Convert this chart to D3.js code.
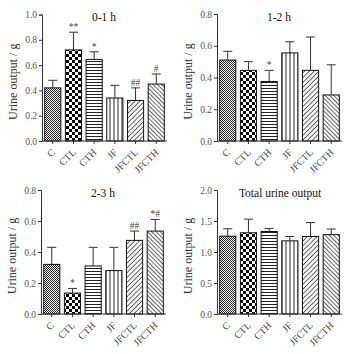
<!DOCTYPE html>
<html>
<head>
<meta charset="utf-8">
<style>
  body { margin: 0; background: #fff; }
  svg { display: block; }
  text { font-family: 'Liberation Serif', 'DejaVu Serif', serif; }
</style>
</head>
<body>
<div id="chart"></div>
<script src="https://d3js.org/d3.v7.min.js"></script>
<script>
  // Groups (x categories)
  const groups = ['C', 'CTL', 'CTH', 'JF', 'JFCTL', 'JFCTH'];

  // 0-1 h
  const mean01 = [0.42, 0.72, 0.645, 0.34, 0.32, 0.45];
  const err01 = [0.06, 0.14, 0.06, 0.10, 0.10, 0.08];
  const sig01 = ['', '**', '*', '', '##', '#'];
  const ticks01 = [0, 0.2, 0.4, 0.6, 0.8, 1.0];

  // 1-2 h
  const mean12 = [0.51, 0.445, 0.375, 0.555, 0.445, 0.29];
  const err12 = [0.055, 0.055, 0.07, 0.07, 0.21, 0.19];
  const sig12 = ['', '', '*', '', '', ''];
  const ticks12 = [0, 0.2, 0.4, 0.6, 0.8];

  // 2-3 h
  const mean23 = [0.32, 0.135, 0.31, 0.28, 0.475, 0.535];
  const err23 = [0.11, 0.03, 0.12, 0.15, 0.06, 0.075];
  const sig23 = ['', '*', '', '', '##', '*#'];
  const ticks23 = [0, 0.2, 0.4, 0.6, 0.8];

  // Total
  const meanTot = [1.255, 1.31, 1.33, 1.18, 1.25, 1.28];
  const errTot = [0.12, 0.22, 0.05, 0.07, 0.225, 0.09];
  const sigTot = ['', '', '', '', '', ''];
  const ticksTot = [0, 0.5, 1.0, 1.5, 2.0];

  const width = 354;
  const height = 354;

  const svg = d3.select('#chart')
    .append('svg')
    .attr('width', width)
    .attr('height', height);

  // Fill patterns, one per group
  const defs = svg.append('defs');

  const p0 = defs.append('pattern').attr('id', 'pat0')
    .attr('patternUnits', 'userSpaceOnUse').attr('width', 2).attr('height', 2);
  p0.append('rect').attr('width', 2).attr('height', 2).attr('fill', '#fff');
  p0.append('rect').attr('width', 1).attr('height', 1).attr('fill', '#222');
  p0.append('rect').attr('x', 1).attr('y', 1).attr('width', 1).attr('height', 1).attr('fill', '#222');

  const p1 = defs.append('pattern').attr('id', 'pat1')
    .attr('patternUnits', 'userSpaceOnUse').attr('width', 6).attr('height', 6);
  p1.append('rect').attr('width', 6).attr('height', 6).attr('fill', '#fff');
  p1.append('rect').attr('width', 3).attr('height', 3).attr('fill', '#000');
  p1.append('rect').attr('x', 3).attr('y', 3).attr('width', 3).attr('height', 3).attr('fill', '#000');

  const p2 = defs.append('pattern').attr('id', 'pat2')
    .attr('patternUnits', 'userSpaceOnUse').attr('width', 3).attr('height', 3);
  p2.append('rect').attr('width', 3).attr('height', 3).attr('fill', '#fff');
  p2.append('line').attr('x1', 0).attr('x2', 3).attr('y1', 1.5).attr('y2', 1.5)
    .attr('stroke', '#222').attr('stroke-width', 1);

  const p3 = defs.append('pattern').attr('id', 'pat3')
    .attr('patternUnits', 'userSpaceOnUse').attr('width', 4).attr('height', 4);
  p3.append('rect').attr('width', 4).attr('height', 4).attr('fill', '#fff');
  p3.append('line').attr('x1', 2).attr('x2', 2).attr('y1', 0).attr('y2', 4)
    .attr('stroke', '#222').attr('stroke-width', 1);

  const p4 = defs.append('pattern').attr('id', 'pat4')
    .attr('patternUnits', 'userSpaceOnUse').attr('width', 3.4).attr('height', 3.4)
    .attr('patternTransform', 'rotate(45)');
  p4.append('rect').attr('width', 3.4).attr('height', 3.4).attr('fill', '#fff');
  p4.append('line').attr('x1', 0).attr('x2', 0).attr('y1', 0).attr('y2', 3.4)
    .attr('stroke', '#222').attr('stroke-width', 1.4);

  const p5 = defs.append('pattern').attr('id', 'pat5')
    .attr('patternUnits', 'userSpaceOnUse').attr('width', 3).attr('height', 3)
    .attr('patternTransform', 'rotate(-45)');
  p5.append('rect').attr('width', 3).attr('height', 3).attr('fill', '#fff');
  p5.append('line').attr('x1', 0).attr('x2', 0).attr('y1', 0).attr('y2', 3)
    .attr('stroke', '#222').attr('stroke-width', 1.4);

  function drawPanel(opts) {
    const g = svg.append('g');

    const x = d3.scaleBand()
      .domain(groups)
      .range([opts.left, opts.left + 125])
      .paddingInner(0.22)
      .paddingOuter(0.13);

    const y = d3.scaleLinear()
      .domain([0, opts.max])
      .range([opts.bottom, opts.top]);

    // error bars (upper only)
    const eb = g.selectAll('.err')
      .data(groups)
      .enter()
      .append('g');
    eb.append('line')
      .attr('x1', (d) => x(d) + x.bandwidth() / 2)
      .attr('x2', (d) => x(d) + x.bandwidth() / 2)
      .attr('y1', (d, i) => y(opts.mean[i]))
      .attr('y2', (d, i) => y(opts.mean[i] + opts.err[i]))
      .attr('stroke', '#333').attr('stroke-width', 1);
    eb.append('line')
      .attr('x1', (d) => x(d) + x.bandwidth() / 2 - 4.5)
      .attr('x2', (d) => x(d) + x.bandwidth() / 2 + 4.5)
      .attr('y1', (d, i) => y(opts.mean[i] + opts.err[i]))
      .attr('y2', (d, i) => y(opts.mean[i] + opts.err[i]))
      .attr('stroke', '#333').attr('stroke-width', 1);

    // bars
    g.selectAll('.bar')
      .data(groups)
      .enter()
      .append('rect')
      .attr('x', (d) => x(d))
      .attr('y', (d, i) => y(opts.mean[i]))
      .attr('width', x.bandwidth())
      .attr('height', (d, i) => y(0) - y(opts.mean[i]))
      .attr('fill', (d, i) => `url(#pat${i})`)
      .attr('stroke', '#111')
      .attr('stroke-width', 1);

    // significance marks
    g.selectAll('.sig')
      .data(groups)
      .enter()
      .append('text')
      .attr('x', (d) => x(d) + x.bandwidth() / 2)
      .attr('y', (d, i) => y(opts.mean[i] + opts.err[i]) - 2)
      .attr('text-anchor', 'middle')
      .attr('font-size', 9.5)
      .attr('fill', '#444')
      .text((d, i) => opts.sig[i]);

    // y axis
    const yAxis = g.append('g')
      .attr('transform', `translate(${opts.left},0)`)
      .call(d3.axisLeft(y).tickValues(opts.ticks).tickFormat(d3.format('.1f')).tickSize(3).tickPadding(2));
    yAxis.select('.domain').attr('stroke', '#333');
    yAxis.selectAll('.tick line').attr('stroke', '#333');
    yAxis.selectAll('text')
      .attr('font-family', "'Liberation Serif', serif")
      .attr('font-size', 9.5)
      .attr('fill', '#555');

    // x axis
    const xAxis = g.append('g')
      .attr('transform', `translate(0,${opts.bottom})`)
      .call(d3.axisBottom(x).tickSize(3).tickSizeOuter(0).tickPadding(0));
    xAxis.select('.domain').attr('stroke', '#333').attr('d', `M${opts.left},0H${opts.left + 125}`);
    xAxis.selectAll('.tick line').attr('stroke', '#333');
    xAxis.selectAll('text')
      .attr('font-family', "'Liberation Serif', serif")
      .attr('font-size', 10)
      .attr('fill', '#444')
      .attr('text-anchor', 'end')
      .attr('y', 0)
      .attr('dy', null)
      .attr('transform', 'translate(3,12) rotate(-45)');

    // y label
    g.append('text')
      .attr('transform', `translate(${opts.left - 25},${(opts.top + opts.bottom) / 2 + 4}) rotate(-90)`)
      .attr('text-anchor', 'middle')
      .attr('font-size', 12)
      .attr('fill', '#333')
      .text('Urine output / g');

    // title
    g.append('text')
      .attr('x', opts.titleX)
      .attr('y', opts.top + 6.5)
      .attr('text-anchor', 'middle')
      .attr('font-size', 11.5)
      .attr('fill', '#111')
      .text(opts.title);
  }

  drawPanel({ left: 42, top: 14.5, bottom: 141, max: 1.0, ticks: ticks01,
    mean: mean01, err: err01, sig: sig01, title: '0-1 h', titleX: 104 });
  drawPanel({ left: 217, top: 14, bottom: 141, max: 0.8, ticks: ticks12,
    mean: mean12, err: err12, sig: sig12, title: '1-2 h', titleX: 279 });
  drawPanel({ left: 41, top: 190, bottom: 314, max: 0.8, ticks: ticks23,
    mean: mean23, err: err23, sig: sig23, title: '2-3 h', titleX: 103 });
  drawPanel({ left: 217, top: 190, bottom: 314, max: 2.0, ticks: ticksTot,
    mean: meanTot, err: errTot, sig: sigTot, title: 'Total urine output', titleX: 280 });
</script>
</body>
</html>
